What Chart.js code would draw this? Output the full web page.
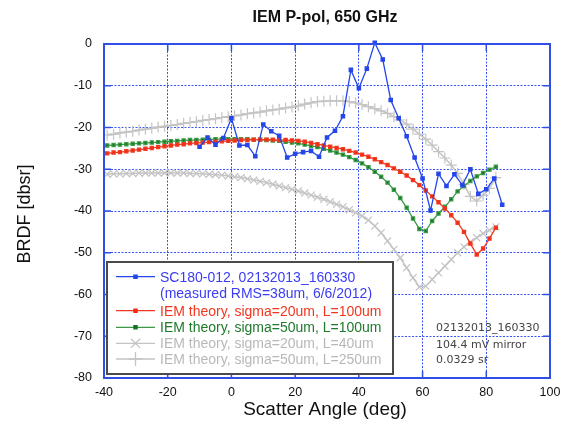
<!DOCTYPE html>
<html>
<head>
<meta charset="utf-8">
<script src="https://cdn.jsdelivr.net/npm/chart.js@4.4.1/dist/chart.umd.min.js"></script>
<style>
  html, body { margin: 0; padding: 0; background: #fff; }
</style>
</head>
<body>
<canvas id="c" width="568" height="432"></canvas>
<script>
// measured scan, 2.5 deg steps
const measAngles = [-10, -7.5, -5, -2.5, 0, 2.5, 5, 7.5, 10, 12.5, 15, 17.5, 20, 22.5, 25, 27.5, 30, 32.5, 35, 37.5,
  40, 42.5, 45, 47.5, 50, 52.5, 55, 57.5, 60, 62.5, 65, 67.5, 70, 72.5, 75, 77.5, 80, 82.5, 85];
const measBrdf = [-24.6, -22.4, -24.1, -22.5, -17.8, -24.3, -24.2, -26.9, -19.3, -20.9, -22.0, -27.2, -26.3, -25.9, -25.6, -27.0, -22.4, -20.8, -17.3, -6.2,
  -10.6, -5.9, 0.3, -3.7, -13.4, -17.8, -22.1, -27.2, -32.2, -39.9, -31.1, -34.0, -31.2, -33.8, -30.0, -35.9, -34.8, -32.2, -38.5];

// IEM theory curves, 2 deg steps
const theoryAngles = [-39, -37, -35, -33, -31, -29, -27, -25, -23, -21, -19, -17, -15, -13, -11, -9, -7, -5, -3, -1,
  1, 3, 5, 7, 9, 11, 13, 15, 17, 19, 21, 23, 25, 27, 29, 31, 33, 35, 37, 39,
  41, 43, 45, 47, 49, 51, 53, 55, 57, 59, 61, 63, 65, 67, 69, 71, 73, 75, 77, 79, 81, 83];
const iem20L100 = [-26.2, -26.0, -25.9, -25.7, -25.5, -25.3, -25.1, -24.9, -24.7, -24.5, -24.3, -24.1, -24.0, -23.8, -23.7, -23.6, -23.5, -23.4, -23.3, -23.2,
  -23.1, -23.0, -23.0, -22.9, -22.9, -22.9, -22.9, -23.0, -23.0, -23.1, -23.2, -23.4, -23.7, -24.0, -24.3, -24.6, -24.9, -25.2, -25.6, -26.0,
  -26.5, -27.0, -27.6, -28.3, -29.0, -29.8, -30.6, -31.5, -32.6, -33.8, -35.1, -36.5, -37.9, -39.4, -41.0, -42.8, -45.0, -47.8, -50.4, -49.0, -46.6, -44.0];
const iem50L100 = [-24.3, -24.2, -24.1, -24.0, -23.9, -23.8, -23.7, -23.6, -23.5, -23.4, -23.3, -23.2, -23.1, -23.0, -23.0, -22.9, -22.9, -22.8, -22.8, -22.8,
  -22.8, -22.8, -22.8, -22.9, -22.9, -23.0, -23.1, -23.2, -23.4, -23.6, -23.8, -24.1, -24.4, -24.7, -25.1, -25.5, -26.0, -26.5, -27.1, -27.8,
  -28.6, -29.5, -30.6, -31.8, -33.2, -34.9, -36.9, -39.2, -41.8, -44.3, -44.8, -42.4, -40.6, -39.0, -37.2, -35.3, -34.0, -32.8, -31.7, -30.9, -30.1, -29.4];
const iem20L40 = [-31.2, -31.1, -31.1, -31.0, -31.0, -30.9, -30.9, -30.9, -30.9, -30.9, -30.9, -30.9, -30.9, -31.0, -31.0, -31.1, -31.2, -31.3, -31.4, -31.6,
  -31.8, -32.0, -32.3, -32.6, -32.9, -33.2, -33.6, -34.0, -34.4, -34.8, -35.2, -35.7, -36.2, -36.7, -37.2, -37.8, -38.4, -39.0, -39.7, -40.4,
  -41.2, -42.2, -43.6, -45.2, -47.2, -49.2, -51.2, -53.6, -56.0, -58.2, -58.0, -56.4, -54.8, -53.2, -51.6, -50.0, -48.6, -47.4, -46.4, -45.4, -44.6, -43.8];
const iem50L250 = [-21.8, -21.6, -21.3, -21.1, -20.9, -20.6, -20.4, -20.2, -19.9, -19.7, -19.5, -19.3, -19.0, -18.8, -18.6, -18.3, -18.1, -17.9, -17.6, -17.4,
  -17.2, -17.0, -16.7, -16.5, -16.3, -16.0, -15.8, -15.6, -15.3, -15.1, -14.8, -14.4, -14.1, -13.8, -13.7, -13.6, -13.6, -13.6, -13.8, -14.1,
  -14.5, -15.0, -15.5, -16.0, -16.6, -17.4, -18.2, -19.2, -20.4, -21.6, -22.8, -24.2, -25.8, -27.3, -29.0, -31.0, -33.6, -36.5, -37.6, -36.2, -34.6, -32.0];

const xTicks = [-40, -20, 0, 20, 40, 60, 80, 100];
const yTicks = [0, -10, -20, -30, -40, -50, -60, -70, -80];

const legendText = [
  ['SC180-012, 02132013_160330', '(measured RMS=38um, 6/6/2012)'],
  ['IEM theory, sigma=20um, L=100um'],
  ['IEM theory, sigma=50um, L=100um'],
  ['IEM theory, sigma=20um, L=40um'],
  ['IEM theory, sigma=50um, L=250um']
];
const noteLines = ['02132013_160330', '104.4 mV mirror', '0.0329 sr'];

const axisBlue = '#2f4fe6';
const gridBlue = 'rgba(45,75,240,0.95)';
const textColors = ['#3c3cf2', '#f2361e', '#1e7a2c', '#b8b8b8', '#b8b8b8'];
const FONT = '"Liberation Sans", Arial, sans-serif';

function pts(xs, ys) { return xs.map((x, i) => ({ x: x, y: ys[i] })); }

const datasets = [
  { data: pts(measAngles, measBrdf), borderColor: '#2446ea', backgroundColor: '#2446ea', borderWidth: 1.3,
    pointStyle: 'rect', pointRadius: 2.3, clip: false },
  { data: pts(theoryAngles, iem20L100), borderColor: '#f23a22', backgroundColor: '#ee2a10', borderWidth: 1.3,
    pointStyle: 'rect', pointRadius: 2.2 },
  { data: pts(theoryAngles, iem50L100), borderColor: '#3a9a46', backgroundColor: '#17702a', borderWidth: 1.3,
    pointStyle: 'rect', pointRadius: 2.2 },
  { data: pts(theoryAngles, iem20L40), borderColor: '#c4c4c4', backgroundColor: '#c4c4c4', borderWidth: 1.5,
    pointStyle: 'crossRot', pointRadius: 5, pointBorderWidth: 1.2 },
  { data: pts(theoryAngles, iem50L250), borderColor: '#c4c4c4', backgroundColor: '#c4c4c4', borderWidth: 1.5,
    pointStyle: 'cross', pointRadius: 5.5, pointBorderWidth: 1.2 }
];

const decor = {
  id: 'decor',
  afterDatasetsDraw(chart) {
    const { ctx, chartArea: a, scales: { x, y } } = chart;
    ctx.save();
    // frame + inward ticks
    ctx.strokeStyle = axisBlue;
    ctx.lineWidth = 2;
    ctx.strokeRect(a.left, a.top, a.right - a.left, a.bottom - a.top);
    ctx.lineWidth = 1.5;
    ctx.beginPath();
    xTicks.forEach(v => {
      const px = x.getPixelForValue(v);
      ctx.moveTo(px, a.bottom); ctx.lineTo(px, a.bottom - 7);
      ctx.moveTo(px, a.top); ctx.lineTo(px, a.top + 7);
    });
    yTicks.forEach(v => {
      const py = y.getPixelForValue(v);
      ctx.moveTo(a.left, py); ctx.lineTo(a.left + 7, py);
      ctx.moveTo(a.right, py); ctx.lineTo(a.right - 7, py);
    });
    ctx.stroke();

    // notes
    ctx.fillStyle = '#444';
    ctx.font = '11px "DejaVu Sans", sans-serif';
    ctx.textBaseline = 'alphabetic';
    ctx.textAlign = 'left';
    [331, 347.5, 362.5].forEach((by, i) => ctx.fillText(noteLines[i], 436, by));

    // legend
    ctx.fillStyle = '#fff';
    ctx.fillRect(107, 262, 286, 112);
    ctx.strokeStyle = '#4a4a4a';
    ctx.lineWidth = 2;
    ctx.strokeRect(107, 262, 286, 112);
    const sampleY = [276.7, 310.7, 327.3, 343.3, 359];
    const baseY = [[281.5, 297.7], [315.7], [332], [348.3], [364]];
    ctx.font = '14px ' + FONT;
    legendText.forEach((lines, i) => {
      const ds = chart.data.datasets[i];
      ctx.strokeStyle = ds.borderColor;
      ctx.lineWidth = 1.3;
      ctx.beginPath();
      ctx.moveTo(116, sampleY[i]); ctx.lineTo(155, sampleY[i]);
      ctx.stroke();
      ctx.fillStyle = ds.backgroundColor;
      ctx.strokeStyle = ds.backgroundColor;
      Chart.helpers.drawPoint(ctx, { pointStyle: ds.pointStyle, radius: ds.pointRadius + (i > 2 ? 1.5 : 0), borderWidth: 1, rotation: 0 }, 135.5, sampleY[i]);
      ctx.fillStyle = textColors[i];
      lines.forEach((t, j) => ctx.fillText(t, 160, baseY[i][j]));
    });
    ctx.restore();
  },
  afterDraw(chart) {
    const { ctx } = chart;
    ctx.save();
    ctx.fillStyle = '#111';
    ctx.textAlign = 'center';
    ctx.textBaseline = 'middle';
    ctx.font = 'bold 16px ' + FONT;
    ctx.fillText('IEM P-pol, 650 GHz', 325, 18);
    ctx.font = '19px ' + FONT;
    ctx.fillText('Scatter Angle (deg)', 325, 410);
    ctx.translate(25, 214);
    ctx.rotate(-Math.PI / 2);
    ctx.font = '18px ' + FONT;
    ctx.fillText('BRDF [dbsr]', 0, 0);
    ctx.restore();
  }
};

new Chart(document.getElementById('c'), {
  type: 'line',
  data: { datasets: datasets },
  options: {
    responsive: false,
    animation: false,
    devicePixelRatio: 1,
    layout: { padding: { top: 44, right: 18, left: 0, bottom: 0 } },
    plugins: { legend: { display: false }, title: { display: false }, tooltip: { enabled: false } },
    elements: { line: { tension: 0 } },
    scales: {
      x: {
        type: 'linear', min: -40, max: 100,
        afterBuildTicks: s => { s.ticks = xTicks.map(v => ({ value: v })); },
        afterFit: s => { s.height = 54; },
        ticks: { font: { family: FONT, size: 12.5 }, color: '#111', padding: 7, maxRotation: 0 },
        grid: { color: gridBlue, lineWidth: 1, drawTicks: false },
        border: { display: false, dash: [2, 1.5] }
      },
      y: {
        type: 'linear', min: -80, max: 0,
        afterBuildTicks: s => { s.ticks = yTicks.map(v => ({ value: v })); },
        afterFit: s => { s.width = 104; },
        ticks: { font: { family: FONT, size: 12.5 }, color: '#111', padding: 12 },
        grid: { color: gridBlue, lineWidth: 1, drawTicks: false },
        border: { display: false, dash: [2, 1.5] }
      }
    }
  },
  plugins: [decor]
});
</script>
</body>
</html>
